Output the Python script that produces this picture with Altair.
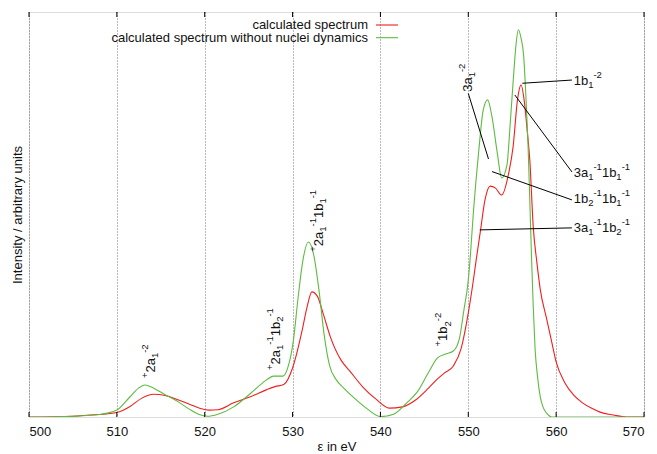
import re
import altair as alt
import pandas as pd

# ---- data ----
energy_red = [500, 505, 507, 508, 510, 511.5, 512.8, 514.2, 515.5, 516.8, 518.2, 519.5, 520.5,
              521.5, 523.3, 525.2, 527.0, 528.0, 529.0, 530.0, 531.1, 531.6, 532.2, 532.8, 533.5,
              534.3, 535.5, 536.5, 538.0, 539.5, 541.0, 542.5, 544.0, 545.5, 546.5, 547.3, 548.3,
              549.2, 550.0, 550.5, 550.9, 551.4, 551.9, 552.5, 553.1, 553.8, 554.6, 555.1, 555.6,
              556.0, 556.4, 556.7, 557.0, 557.4, 557.8, 558.2, 558.9, 559.5, 560, 561, 562, 563,
              564, 565, 566.5, 568, 570]
intensity_red = [0, 0.002, 0.005, 0.006, 0.011, 0.026, 0.046, 0.056, 0.053, 0.044, 0.032, 0.021, 0.017,
                 0.018, 0.035, 0.050, 0.067, 0.075, 0.080, 0.121, 0.215, 0.267, 0.309, 0.299, 0.254,
                 0.198, 0.141, 0.114, 0.074, 0.044, 0.022, 0.025, 0.042, 0.072, 0.094, 0.109, 0.126,
                 0.170, 0.257, 0.326, 0.388, 0.462, 0.536, 0.570, 0.565, 0.548, 0.602, 0.667, 0.783,
                 0.820, 0.775, 0.709, 0.635, 0.467, 0.383, 0.314, 0.244, 0.185, 0.136, 0.084, 0.054, 0.035,
                 0.022, 0.012, 0.005, 0, 0]

energy_green = [500, 505, 508, 510, 511.5, 512.5, 513.2, 514.3, 515.5, 516.8, 518.2, 519.3, 520.3,
                521.5, 523.3, 525.2, 527.0, 527.8, 528.9, 529.5, 530.1, 530.6, 531.2, 531.8, 532.4,
                533.0, 533.6, 534.2, 535.0, 535.8, 537.0, 538.5, 540.0, 541.5, 543.0, 544.2, 545.5,
                546.5, 547.5, 548.3, 549.0, 549.5, 550.0, 550.2, 550.6, 551.2, 551.7, 552.2, 552.7,
                553.3, 553.8, 554.4, 554.8, 555.2, 555.45, 555.7, 556.0, 556.3, 556.55, 556.8, 557.0,
                557.2, 557.4, 557.6, 557.9, 558.2, 558.5, 558.9, 559.5, 570]
intensity_green = [0, 0.002, 0.006, 0.017, 0.050, 0.072, 0.079, 0.070, 0.055, 0.040, 0.020, 0.007, 0.002,
                   0.007, 0.025, 0.058, 0.091, 0.101, 0.101, 0.125, 0.190, 0.289, 0.390, 0.432, 0.401,
                   0.314, 0.202, 0.128, 0.091, 0.072, 0.047, 0.020, 0.001, 0.007, 0.035, 0.062, 0.111,
                   0.146, 0.156, 0.163, 0.195, 0.264, 0.338, 0.388, 0.511, 0.659, 0.758, 0.783, 0.741,
                   0.652, 0.590, 0.622, 0.733, 0.857, 0.923, 0.956, 0.936, 0.893, 0.795, 0.672, 0.536,
                   0.393, 0.269, 0.170, 0.096, 0.049, 0.025, 0.010, 0, 0]

series_names = ["calculated spectrum", "calculated spectrum without nuclei dynamics"]
series_colors = ["#f01e1e", "#5dbb3f"]

x_ticks = [500, 510, 520, 530, 540, 550, 560, 570]

# rotated peak labels (enhanced-text markup: _{...} subscript, ^{...} superscript)
peak_labels = ["^{+}2a_{1}^{-2}", "^{+}2a_{1}^{-1}1b_{2}^{-1}", "^{+}2a_{1}^{-1}1b_{1}^{-1}",
               "^{+}1b_{2}^{-2}", "3a_{1}^{-2}"]
peak_label_x = [513.8, 528.0, 532.9, 547.1, 549.9]
peak_label_y = [0.096, 0.116, 0.408, 0.174, 0.803]

# labels on the right with leader lines
side_labels = ["1b_{1}^{-2}", "3a_{1}^{-1}1b_{1}^{-1}", "1b_{2}^{-1}1b_{1}^{-1}", "3a_{1}^{-1}1b_{2}^{-1}"]
side_label_x = [562.0, 562.0, 562.0, 562.0]
side_label_y = [0.832, 0.604, 0.540, 0.468]

leader_x1 = [556.15, 555.3, 552.7, 551.3, 550.0]
leader_y1 = [0.824, 0.795, 0.606, 0.462, 0.799]
leader_x2 = [561.8, 561.8, 561.8, 561.8, 552.3]
leader_y2 = [0.832, 0.605, 0.536, 0.467, 0.637]

FONT = "Liberation Sans"
FS = 13          # normal text size
FS_SMALL = 9.5   # sub/superscript size
W, H = 615, 405
X_DOMAIN = [500, 570]
Y_DOMAIN = [0, 1]
PX_PER_X = W / (X_DOMAIN[1] - X_DOMAIN[0])
PX_PER_Y = H / (Y_DOMAIN[1] - Y_DOMAIN[0])

# Arial / Liberation Sans advance widths (em)
CHAR_W = {"+": 0.584, "-": 0.333}


def parse(markup):
    segs = []
    for m in re.finditer(r"\^\{([^}]*)\}|_\{([^}]*)\}|([^_^]+)", markup):
        if m.group(1) is not None:
            segs.append((m.group(1), "sup"))
        elif m.group(2) is not None:
            segs.append((m.group(2), "sub"))
        else:
            segs.append((m.group(3), "base"))
    return segs


def seg_width(text, kind):
    size = FS if kind == "base" else FS_SMALL
    return sum(CHAR_W.get(c, 0.556) for c in text) * size


def layout(labels, xs, ys, vertical):
    rows = []
    for lab, x0, y0 in zip(labels, xs, ys):
        off = 0.0
        for text, kind in parse(lab):
            if vertical:
                rows.append({"energy": x0, "intensity": y0 + off / PX_PER_Y, "t": text, "kind": kind})
            else:
                rows.append({"energy": x0 + off / PX_PER_X, "intensity": y0, "t": text, "kind": kind})
            off += seg_width(text, kind)
    return pd.DataFrame(rows)


df_red = pd.DataFrame({"energy": energy_red, "intensity": intensity_red})
df_green = pd.DataFrame({"energy": energy_green, "intensity": intensity_green})
df_peak_segs = layout(peak_labels, peak_label_x, peak_label_y, True)
df_side_segs = layout(side_labels, side_label_x, side_label_y, False)
df_lead = pd.DataFrame({"x1": leader_x1, "y1": leader_y1, "x2": leader_x2, "y2": leader_y2})
df_ticks = pd.DataFrame({"energy": x_ticks})

xscale = alt.Scale(domain=X_DOMAIN, nice=False, zero=False)
yscale = alt.Scale(domain=Y_DOMAIN, nice=False, zero=False)

x_axis = alt.Axis(values=x_ticks, grid=True, gridDash=[1, 2], gridColor="#444", gridOpacity=0.75,
                  gridWidth=1, ticks=False, domain=False, labelFont=FONT, labelFontSize=FS,
                  labelColor="#111", labelPadding=8, title="ε in eV", titleFont=FONT,
                  titleFontSize=FS, titleFontWeight="normal", titleColor="#111", titlePadding=2)
y_axis = alt.Axis(labels=False, ticks=False, grid=False, domain=False,
                  title="Intensity / arbitrary units", titleFont=FONT, titleFontSize=FS,
                  titleFontWeight="normal", titleColor="#111", titlePadding=5)

X = alt.X("energy:Q", scale=xscale)
Y = alt.Y("intensity:Q", scale=yscale)

red_line = alt.Chart(df_red).mark_line(strokeWidth=1.1, clip=True, interpolate="monotone").encode(
    x=alt.X("energy:Q", scale=xscale, axis=x_axis), y=alt.Y("intensity:Q", scale=yscale, axis=y_axis),
    color=alt.value(series_colors[0]))
green_line = alt.Chart(df_green).mark_line(strokeWidth=1.1, clip=True, interpolate="monotone").encode(
    x=X, y=Y, color=alt.value(series_colors[1]))

ticks_bottom = alt.Chart(df_ticks).mark_rule(color="#000", strokeWidth=1).encode(
    x=X, y=alt.value(H), y2=alt.value(H - 5))
ticks_top = alt.Chart(df_ticks).mark_rule(color="#000", strokeWidth=1).encode(
    x=X, y=alt.value(0), y2=alt.value(5))

leaders = alt.Chart(df_lead).mark_rule(color="#000", strokeWidth=1).encode(
    x=alt.X("x1:Q", scale=xscale), y=alt.Y("y1:Q", scale=yscale), x2="x2:Q", y2="y2:Q")

# baseline offsets (text frame): base body centred on anchor, sub lowered, sup raised
KIND_STYLE = {"base": (FS, 4.6), "sub": (FS_SMALL, 7.9), "sup": (FS_SMALL, -2.1)}

label_layers = []
for df_s, ang in ((df_peak_segs, 270), (df_side_segs, 0)):
    for kind, (size, dy) in KIND_STYLE.items():
        sub = df_s[df_s["kind"] == kind]
        if len(sub) == 0:
            continue
        label_layers.append(alt.Chart(sub).mark_text(
            angle=ang, align="left", baseline="alphabetic", dy=dy,
            font=FONT, fontSize=size, color="#111").encode(x=X, y=Y, text="t:N"))

legend_layers = []
legend_rows_y = [13, 25.7]
for name, col, yy in zip(series_names, series_colors, legend_rows_y):
    one = pd.DataFrame({"label": [name]})
    legend_layers.append(alt.Chart(one).mark_text(align="right", baseline="middle", font=FONT,
                                                  fontSize=FS, color="#111").encode(
        x=alt.value(339), y=alt.value(yy), text="label:N"))
    legend_layers.append(alt.Chart(one).mark_rule(color=col, strokeWidth=1.1).encode(
        x=alt.value(347), x2=alt.value(369), y=alt.value(yy)))

chart = alt.layer(red_line, green_line, ticks_bottom, ticks_top, leaders, *label_layers,
                  *legend_layers).properties(
    width=W, height=H,
    autosize=alt.AutoSizeParams(type="none"),
    padding={"left": 21, "top": 4, "right": 5, "bottom": 36},
).configure_view(stroke="#000", strokeWidth=1.2).configure(background="white")

chart.save("out.html", embed_options={"renderer": "svg", "actions": False})
